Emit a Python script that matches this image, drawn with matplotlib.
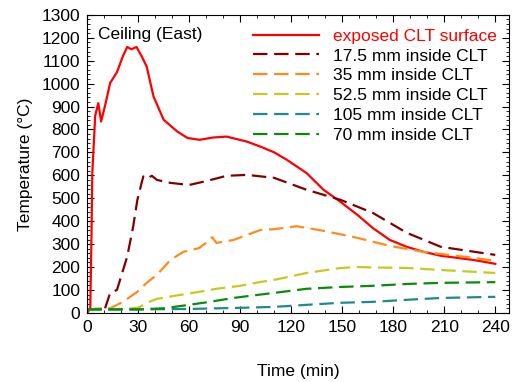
import matplotlib
matplotlib.use('Agg')
import matplotlib.pyplot as plt
from matplotlib.ticker import MultipleLocator

plt.rcParams['font.family'] = ['Liberation Sans', 'DejaVu Sans']

# exposed surface
t_surf = [0, 1.8, 2.5, 3.0, 4.7, 6.5, 8.2, 11, 13.5, 17.5, 21, 23.5, 26, 29, 32, 35, 39, 45,
          53, 59, 66, 74, 82, 94, 102, 110, 117.6, 129, 139, 149, 159, 168, 178, 188,
          198, 208, 227, 240]
T_surf = [0, 20, 330, 610, 860, 915, 835, 920, 1003, 1050, 1120, 1160, 1150, 1160, 1120, 1074,
          944, 842, 791, 763, 755, 765, 769, 747, 725, 700, 667, 610, 537, 484, 427, 370,
          318, 288, 266, 249, 231, 214]

t_175 = [10.5, 13.5, 17.5, 23.5, 27, 29.5, 32, 33, 35, 38, 41, 49, 60, 70, 82, 94,
         110, 129, 149, 168, 188, 208, 240]
T_175 = [20, 87, 100, 245, 375, 493, 567, 595, 585, 598, 580, 567, 558, 575, 598, 602,
         589, 537, 493, 436, 349, 288, 253]

t_35 = [0, 8, 13.5, 21, 29.5, 35, 41, 49, 56.5, 66, 72, 73.5, 76, 86, 102, 110, 123, 139,
        159, 178, 198, 227, 240]
T_35 = [15, 20, 20, 48, 92, 131, 166, 231, 266, 283, 318, 330, 305, 318, 362, 365, 378,
        358, 327, 292, 266, 240, 227]

t_525 = [0, 23, 30, 35, 41, 51, 62, 76, 90, 102, 110, 129, 149, 160, 168, 188, 208, 240]
T_525 = [15, 18, 22, 44, 61, 74, 87, 105, 118, 135, 144, 174, 196, 200, 198, 196, 187, 174]

t_105 = [0, 30, 60, 90, 110, 129, 149, 168, 188, 208, 240]
T_105 = [15, 15, 17, 22, 26, 35, 44, 48, 57, 65, 70]

t_70 = [0, 30, 45, 60, 72, 86, 102, 110, 129, 149, 168, 188, 208, 240]
T_70 = [15, 15, 20, 35, 48, 65, 80, 87, 105, 113, 118, 126, 131, 134]

fig = plt.figure(figsize=(5.13, 3.82), dpi=100)
ax = fig.add_axes([0.170, 0.181, 0.822, 0.780])

dash = (0, (6.5, 3))
ax.plot(t_surf, T_surf, color='#ff0000', lw=1.6, label='exposed CLT surface')
ax.plot(t_175, T_175, color='#800000', lw=1.6, ls=dash, label='17.5 mm inside CLT')
ax.plot(t_35, T_35, color='#ff8c1a', lw=1.6, ls=dash, label='35 mm inside CLT')
ax.plot(t_525, T_525, color='#c8c81e', lw=1.6, ls=dash, label='52.5 mm inside CLT')
ax.plot(t_105, T_105, color='#1a8c8c', lw=1.6, ls=dash, label='105 mm inside CLT')
ax.plot(t_70, T_70, color='#0a8c0a', lw=1.6, ls=dash, label='70 mm inside CLT')

ax.set_xlim(0, 248)
ax.set_ylim(0, 1300)
ax.xaxis.set_major_locator(MultipleLocator(30))
ax.xaxis.set_minor_locator(MultipleLocator(10))
ax.yaxis.set_major_locator(MultipleLocator(100))
ax.yaxis.set_minor_locator(MultipleLocator(20))
ax.tick_params(which='both', direction='in', top=True, right=True, labelsize=12.5, pad=5)
ax.tick_params(which='major', length=5)
ax.tick_params(which='minor', length=2.5)

ax.set_xlabel('Time (min)', fontsize=12.5, labelpad=21)
ax.set_ylabel('Temperature (°C)', fontsize=12.5, labelpad=6)
ax.text(0.025, 0.96, 'Ceiling (East)', transform=ax.transAxes, fontsize=12.5, va='top')

leg = ax.legend(loc='upper right', bbox_to_anchor=(1.0, 0.995), frameon=False, fontsize=12.5,
                handlelength=3.8, handletextpad=0.8, labelspacing=0.27, borderaxespad=0.3)
leg.get_texts()[0].set_color('#ff0000')

fig.savefig('out.png', dpi=100)
